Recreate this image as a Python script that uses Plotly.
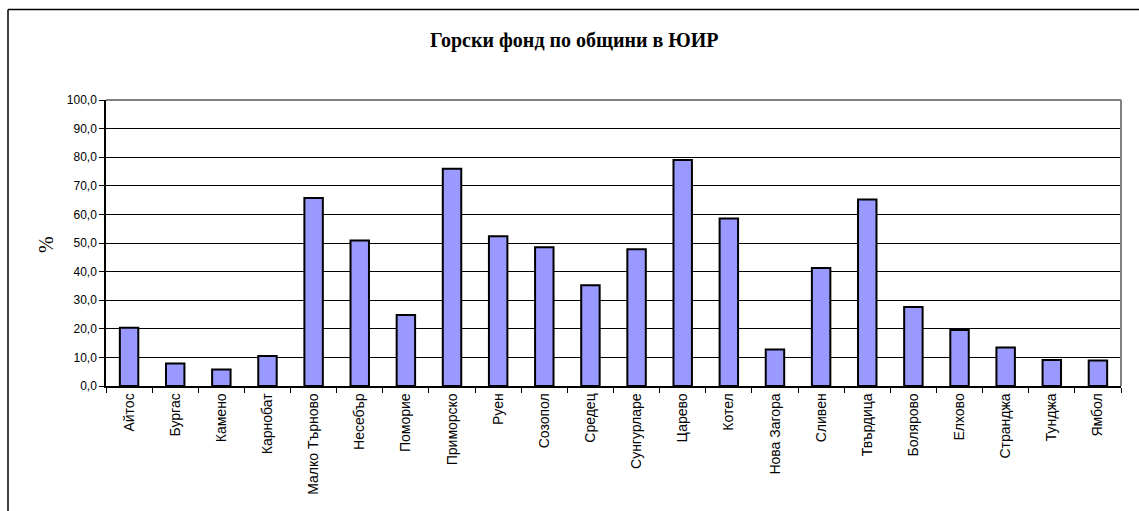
import plotly.graph_objects as go

categories = ["Айтос", "Бургас", "Камено", "Карнобат", "Малко Търново", "Несебър",
              "Поморие", "Приморско", "Руен", "Созопол", "Средец", "Сунгурларе",
              "Царево", "Котел", "Нова Загора", "Сливен", "Твърдица", "Болярово",
              "Елхово", "Странджа", "Тунджа", "Ямбол"]
values = [20.4, 7.9, 5.8, 10.5, 65.7, 50.9, 24.8, 76.0, 52.4, 48.5, 35.2, 47.8,
          79.0, 58.6, 12.8, 41.3, 65.2, 27.6, 19.6, 13.5, 9.1, 8.9]
y_ticks = [0, 10, 20, 30, 40, 50, 60, 70, 80, 90, 100]

title_text = "Горски фонд по общини в ЮИР"
y_title = "%"

W, H = 1139, 511
L, R, T, B = 106, 1121, 100, 386

fig = go.Figure(go.Bar(
    x=categories, y=values, width=0.4,
    marker=dict(color="#9999FF", line=dict(color="black", width=2)),
))

pw = R - L
ph = B - T

fig.update_layout(
    width=W, height=H,
    margin=dict(l=L, r=W - R, t=T, b=H - B, pad=0),
    paper_bgcolor="white", plot_bgcolor="white",
    showlegend=False,
    separators=",.",
    font=dict(family="Liberation Sans, Arial", size=12, color="black"),
    xaxis=dict(
        type="category", tickangle=-90, ticks="outside", tickson="boundaries",
        ticklen=5, tickcolor="black", tickwidth=1,
        showline=True, linecolor="black", linewidth=1.5,
        showgrid=False, tickfont=dict(family="Liberation Sans, Arial", size=14),
        range=[-0.5, len(categories) - 0.5],
    ),
    yaxis=dict(
        range=[0, 100], tickvals=y_ticks, tickformat=".1f",
        ticks="outside", ticklen=5, tickcolor="black", tickwidth=1,
        showline=True, linecolor="black", linewidth=1.5,
        showgrid=True, gridcolor="black", gridwidth=1,
        tickfont=dict(family="Liberation Sans, Arial", size=12),
        zeroline=False,
    ),
    shapes=[
        # plot-area top & right (gray)
        dict(type="line", xref="paper", yref="paper", x0=0, x1=1, y0=1, y1=1,
             line=dict(color="#808080", width=2)),
        dict(type="line", xref="paper", yref="paper", x0=1, x1=1, y0=0, y1=1,
             line=dict(color="#808080", width=2)),
        # outer chart border (top & left visible)
        dict(type="line", xref="paper", yref="paper",
             x0=(8 - L) / pw, x1=(W + 5 - L) / pw,
             y0=(B - 9.5) / ph, y1=(B - 9.5) / ph,
             line=dict(color="black", width=1.5)),
        dict(type="line", xref="paper", yref="paper",
             x0=(8 - L) / pw, x1=(8 - L) / pw,
             y0=(B - 9.5) / ph, y1=(B - H - 5) / ph,
             line=dict(color="black", width=1.5)),
    ],
    annotations=[
        dict(text="<b>" + title_text + "</b>", xref="paper", yref="paper",
             x=(574 - L) / pw, y=(B - 40) / ph, showarrow=False,
             xanchor="center", yanchor="middle",
             font=dict(family="Liberation Serif, Times New Roman", size=20, color="black")),
        dict(text=y_title, xref="paper", yref="paper",
             x=(46 - L) / pw, y=(B - 245) / ph, showarrow=False, textangle=-90,
             xanchor="center", yanchor="middle",
             font=dict(family="Liberation Serif, Times New Roman", size=20, color="black")),
    ],
)

fig.write_html("out.html", config={"displayModeBar": False},
               post_script="document.body.style.margin='0';document.body.style.overflow='hidden';")
